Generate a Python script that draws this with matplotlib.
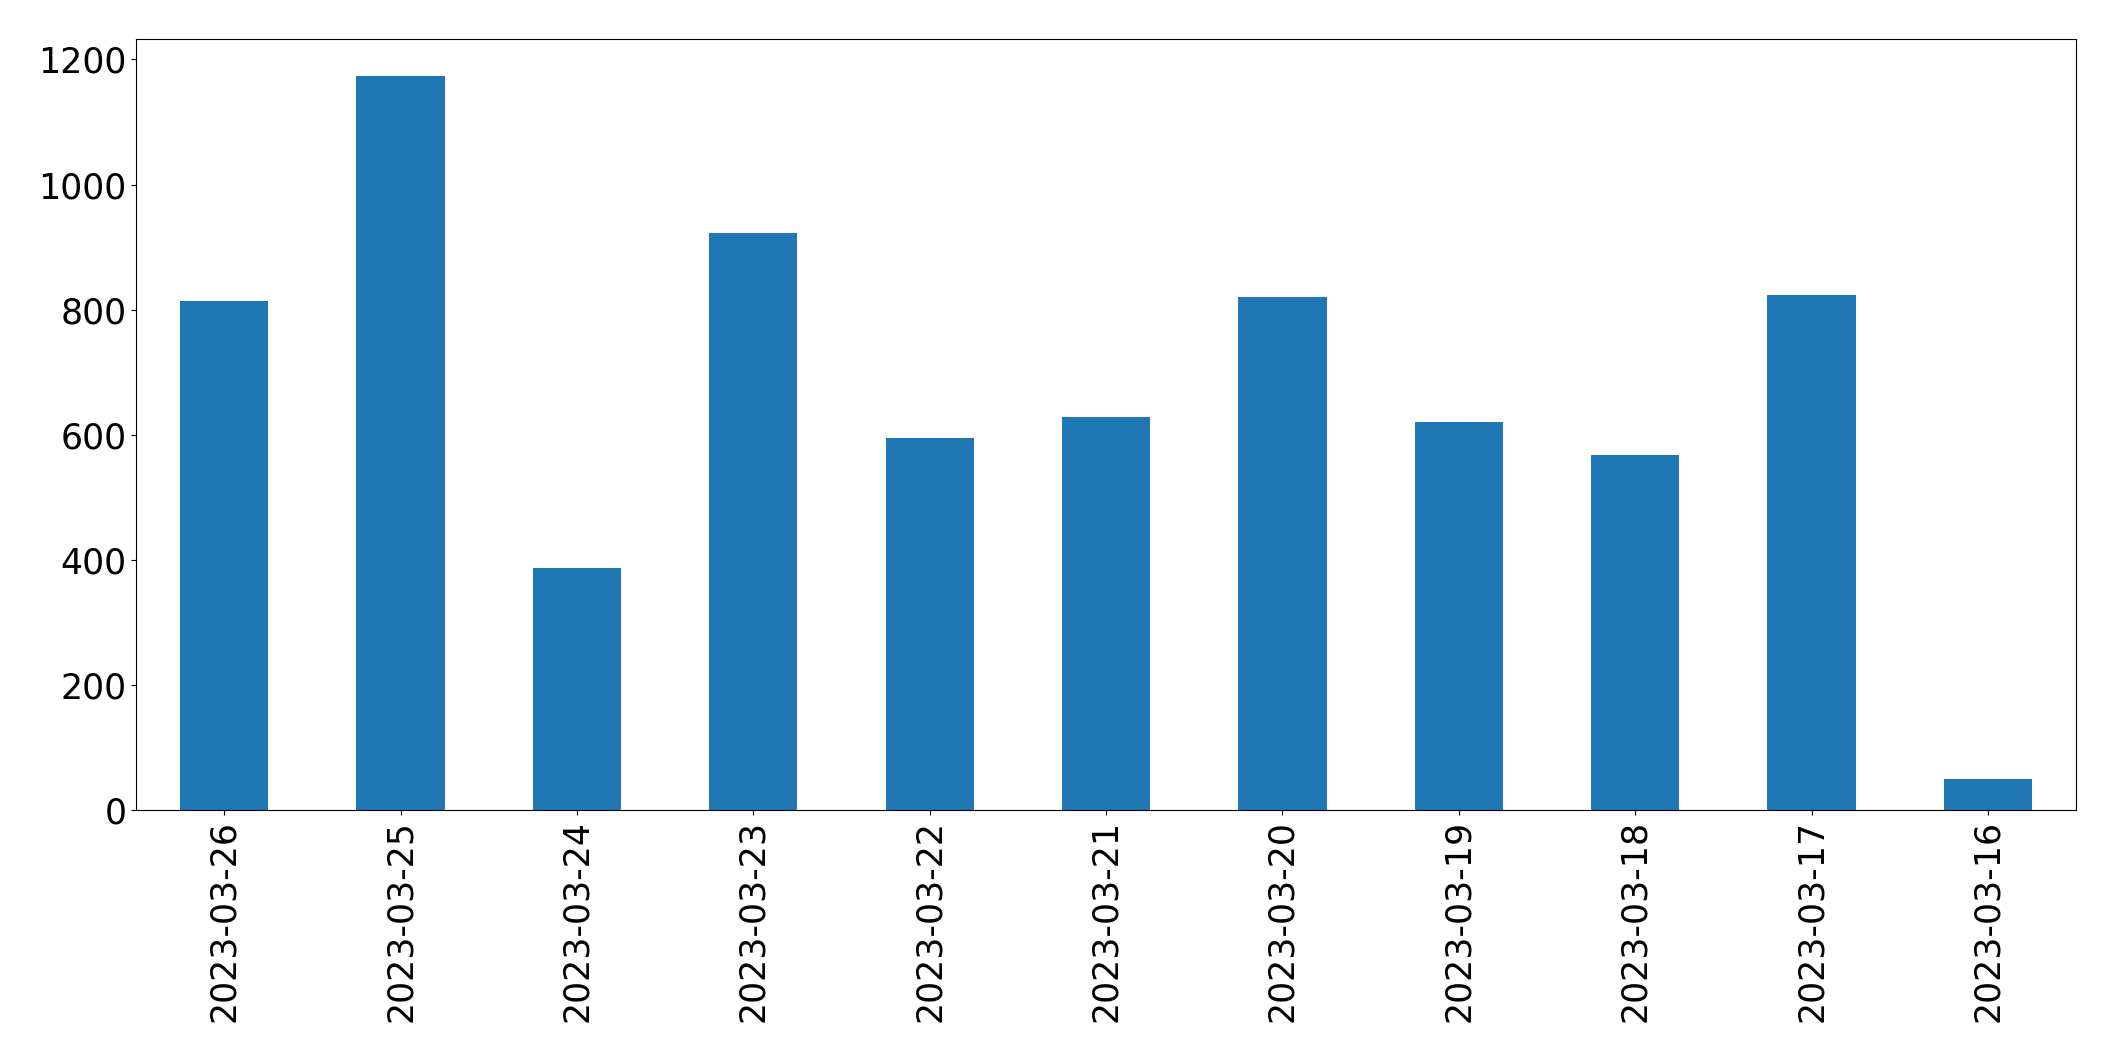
from matplotlib import pyplot as plt
import numpy as np

# daily counts, newest first
dates = ['2023-03-26', '2023-03-25', '2023-03-24', '2023-03-23', '2023-03-22',
         '2023-03-21', '2023-03-20', '2023-03-19', '2023-03-18', '2023-03-17',
         '2023-03-16']
counts = [814, 1174, 387, 922, 595, 629, 820, 621, 568, 823, 50]

fig = plt.figure(figsize=(21.15, 10.61), dpi=100)
ax = fig.add_axes([0.0643, 0.2366, 0.9173, 0.7266])

xpts = np.arange(len(dates))
ax.bar(xpts, counts, width=0.5, color='#1f77b4')
ax.set_xlim(-0.5, len(dates) - 0.5)
ax.set_xticks(xpts)
ax.set_xticklabels(dates, rotation=90)
ax.tick_params(axis='both', labelsize=25)

plt.savefig('out.png', format='png', dpi=100)
